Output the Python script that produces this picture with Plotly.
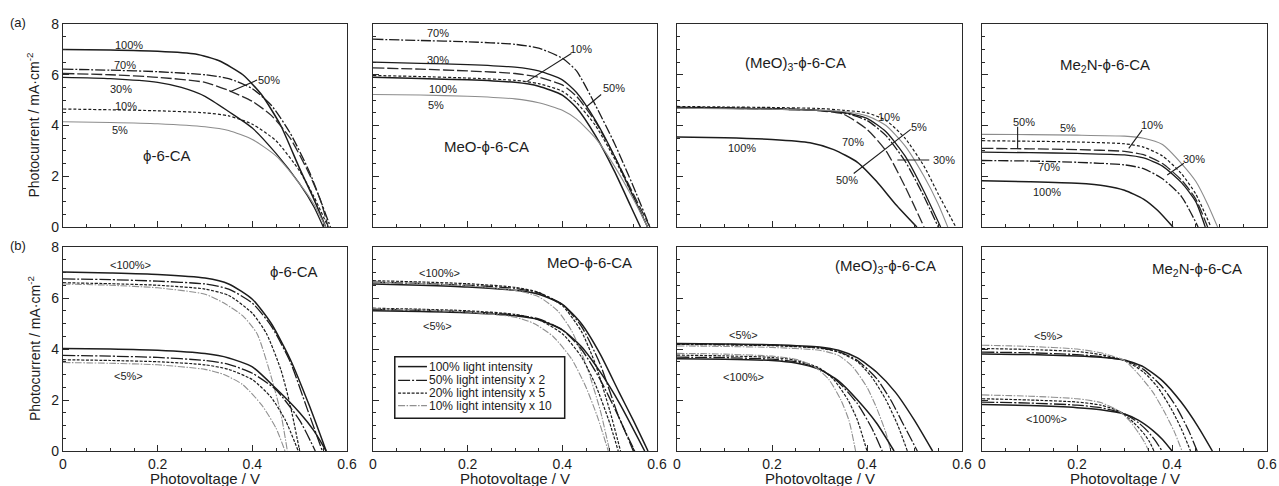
import plotly.graph_objects as go
from plotly.subplots import make_subplots

FONT = "Liberation Sans, Arial, sans-serif"
INK = "#1c1c1c"
PHI = "\u03d5"

# ---------------- (a) J-V curves at several light intensities ----------------
# each curve: (photovoltage / V, photocurrent / mA cm-2)
A_PHI = {
    "100%": ([0, 0.1, 0.2, 0.28, 0.33, 0.38, 0.42, 0.46, 0.5, 0.53, 0.555],
             [7.0, 6.98, 6.93, 6.82, 6.55, 6.0, 5.2, 4.0, 2.3, 1.1, 0]),
    "70%": ([0, 0.1, 0.2, 0.3, 0.35, 0.4, 0.44, 0.48, 0.52, 0.545, 0.565],
            [6.22, 6.18, 6.12, 6.0, 5.85, 5.45, 4.8, 3.7, 2.2, 1.0, 0]),
    "50%": ([0, 0.1, 0.2, 0.3, 0.35, 0.4, 0.44, 0.48, 0.52, 0.545, 0.56],
            [6.05, 6.0, 5.9, 5.7, 5.38, 4.95, 4.4, 3.5, 2.1, 1.0, 0]),
    "30%": ([0, 0.1, 0.2, 0.25, 0.3, 0.35, 0.4, 0.45, 0.5, 0.53, 0.55],
            [5.9, 5.85, 5.7, 5.5, 5.15, 4.55, 3.9, 2.9, 1.7, 0.8, 0]),
    "10%": ([0, 0.1, 0.2, 0.3, 0.35, 0.4, 0.45, 0.5, 0.53, 0.56],
            [4.65, 4.62, 4.58, 4.5, 4.38, 4.05, 3.4, 2.2, 1.2, 0]),
    "5%": ([0, 0.1, 0.2, 0.3, 0.35, 0.4, 0.45, 0.5, 0.53, 0.555],
           [4.15, 4.12, 4.07, 3.95, 3.8, 3.45, 2.8, 1.7, 0.9, 0]),
}
A_MEO = {
    "100%": ([0, 0.1, 0.2, 0.3, 0.35, 0.4, 0.43, 0.47, 0.51, 0.545, 0.565],
             [5.9, 5.85, 5.8, 5.7, 5.55, 5.2, 4.7, 3.6, 2.2, 0.8, 0]),
    "70%": ([0, 0.1, 0.2, 0.3, 0.35, 0.4, 0.43, 0.47, 0.51, 0.55, 0.585],
            [7.4, 7.35, 7.3, 7.2, 7.05, 6.65, 6.15, 4.8, 3.3, 1.6, 0]),
    "50%": ([0, 0.1, 0.2, 0.3, 0.35, 0.4, 0.43, 0.47, 0.51, 0.55, 0.585],
            [6.27, 6.22, 6.15, 6.05, 5.9, 5.6, 5.15, 4.15, 2.8, 1.3, 0]),
    "30%": ([0, 0.1, 0.2, 0.3, 0.35, 0.4, 0.43, 0.47, 0.51, 0.55, 0.58],
            [6.5, 6.45, 6.4, 6.3, 6.15, 5.8, 5.3, 4.2, 2.8, 1.2, 0]),
    "10%": ([0, 0.1, 0.2, 0.3, 0.35, 0.4, 0.43, 0.47, 0.51, 0.55, 0.58],
            [5.97, 5.93, 5.87, 5.78, 5.65, 5.35, 4.9, 4.0, 2.7, 1.2, 0]),
    "5%": ([0, 0.1, 0.2, 0.3, 0.35, 0.4, 0.43, 0.47, 0.51, 0.55, 0.58],
           [5.22, 5.2, 5.15, 5.05, 4.9, 4.6, 4.25, 3.5, 2.4, 1.1, 0]),
}
A_MEO3 = {
    "100%": ([0, 0.1, 0.2, 0.28, 0.33, 0.38, 0.42, 0.46, 0.505],
             [3.55, 3.52, 3.45, 3.32, 3.05, 2.55, 1.8, 0.9, 0]),
    "70%": ([0, 0.1, 0.2, 0.3, 0.35, 0.4, 0.44, 0.48, 0.52, 0.55],
            [4.72, 4.7, 4.67, 4.6, 4.5, 4.2, 3.6, 2.6, 1.2, 0]),
    "50%": ([0, 0.1, 0.2, 0.3, 0.35, 0.4, 0.44, 0.48, 0.52],
            [4.7, 4.68, 4.65, 4.58, 4.45, 3.85, 3.0, 1.6, 0]),
    "30%": ([0, 0.1, 0.2, 0.3, 0.35, 0.4, 0.44, 0.48, 0.52, 0.555],
            [4.7, 4.68, 4.65, 4.6, 4.52, 4.28, 3.75, 2.8, 1.4, 0]),
    "10%": ([0, 0.1, 0.2, 0.3, 0.35, 0.4, 0.44, 0.48, 0.52, 0.55, 0.587],
            [4.75, 4.73, 4.71, 4.67, 4.6, 4.5, 4.2, 3.5, 2.4, 1.3, 0]),
    "5%": ([0, 0.1, 0.2, 0.3, 0.35, 0.4, 0.44, 0.48, 0.52, 0.55, 0.57],
           [4.68, 4.66, 4.64, 4.6, 4.55, 4.38, 4.0, 3.2, 2.0, 0.9, 0]),
}
A_ME2N = {
    "100%": ([0, 0.1, 0.2, 0.26, 0.3, 0.34, 0.37, 0.402],
             [1.82, 1.78, 1.72, 1.62, 1.45, 1.1, 0.65, 0]),
    "70%": ([0, 0.1, 0.2, 0.3, 0.34, 0.38, 0.42, 0.455],
            [2.62, 2.6, 2.55, 2.45, 2.3, 1.9, 1.2, 0]),
    "50%": ([0, 0.1, 0.2, 0.3, 0.34, 0.38, 0.42, 0.45, 0.475],
            [3.1, 3.08, 3.05, 2.98, 2.85, 2.5, 1.85, 1.1, 0]),
    "30%": ([0, 0.1, 0.2, 0.3, 0.34, 0.38, 0.42, 0.45, 0.47],
            [2.95, 2.93, 2.9, 2.84, 2.72, 2.4, 1.75, 1.0, 0]),
    "10%": ([0, 0.1, 0.2, 0.3, 0.34, 0.38, 0.42, 0.45, 0.482],
            [3.4, 3.38, 3.35, 3.28, 3.15, 2.8, 2.1, 1.3, 0]),
    "5%": ([0, 0.1, 0.2, 0.3, 0.34, 0.38, 0.42, 0.45, 0.475, 0.496],
           [3.65, 3.64, 3.62, 3.58, 3.5, 3.25, 2.5, 1.8, 0.9, 0]),
}

# ---------------- (b) curves rescaled to 100% and to 5% ----------------
SCALINGS = ["100% light intensity", "50% light intensity x 2",
            "20% light intensity x 5", "10% light intensity x 10"]

B_PHI = {
    "<100%>": [
        ([0, 0.1, 0.2, 0.3, 0.35, 0.4, 0.44, 0.48, 0.52, 0.556],
         [7.02, 6.98, 6.92, 6.78, 6.55, 5.95, 5.0, 3.6, 1.8, 0]),
        ([0, 0.1, 0.2, 0.3, 0.35, 0.4, 0.44, 0.48, 0.515, 0.548],
         [6.75, 6.72, 6.66, 6.55, 6.35, 5.8, 4.9, 3.5, 1.7, 0]),
        ([0, 0.1, 0.2, 0.3, 0.35, 0.4, 0.43, 0.46, 0.48, 0.5],
         [6.6, 6.56, 6.5, 6.35, 6.1, 5.4, 4.6, 3.2, 1.8, 0]),
        ([0, 0.1, 0.2, 0.3, 0.34, 0.38, 0.41, 0.44, 0.46, 0.474],
         [6.55, 6.5, 6.4, 6.15, 5.8, 5.3, 4.6, 2.9, 1.5, 0]),
    ],
    "<5%>": [
        ([0, 0.1, 0.2, 0.3, 0.35, 0.4, 0.45, 0.5, 0.53, 0.556],
         [4.02, 4.0, 3.95, 3.82, 3.65, 3.3, 2.45, 1.5, 0.8, 0]),
        ([0, 0.1, 0.2, 0.3, 0.35, 0.4, 0.45, 0.5, 0.533],
         [3.75, 3.72, 3.67, 3.55, 3.4, 3.05, 2.4, 1.2, 0]),
        ([0, 0.1, 0.2, 0.3, 0.35, 0.4, 0.44, 0.47, 0.497],
         [3.58, 3.55, 3.5, 3.38, 3.2, 2.8, 2.1, 1.2, 0]),
        ([0, 0.1, 0.2, 0.3, 0.34, 0.38, 0.42, 0.45, 0.469],
         [3.47, 3.44, 3.38, 3.2, 3.0, 2.6, 1.8, 0.9, 0]),
    ],
}
B_MEO = {
    "<100%>": [
        ([0, 0.1, 0.2, 0.3, 0.35, 0.4, 0.44, 0.48, 0.52, 0.55, 0.581],
         [6.55, 6.5, 6.43, 6.3, 6.15, 5.75, 5.0, 3.8, 2.3, 1.2, 0]),
        ([0, 0.1, 0.2, 0.3, 0.35, 0.4, 0.44, 0.48, 0.52, 0.553],
         [6.62, 6.57, 6.5, 6.38, 6.2, 5.75, 4.9, 3.4, 1.3, 0]),
        ([0, 0.1, 0.2, 0.3, 0.35, 0.4, 0.44, 0.47, 0.5, 0.523],
         [6.68, 6.63, 6.56, 6.42, 6.22, 5.7, 4.7, 3.4, 1.6, 0]),
        ([0, 0.1, 0.2, 0.3, 0.35, 0.39, 0.42, 0.45, 0.48, 0.5],
         [6.62, 6.57, 6.48, 6.3, 6.05, 5.5, 4.7, 3.4, 1.6, 0]),
    ],
    "<5%>": [
        ([0, 0.1, 0.2, 0.3, 0.35, 0.4, 0.44, 0.48, 0.52, 0.574],
         [5.5, 5.47, 5.42, 5.3, 5.15, 4.75, 4.1, 3.1, 1.9, 0]),
        ([0, 0.1, 0.2, 0.3, 0.35, 0.4, 0.44, 0.48, 0.52, 0.55],
         [5.55, 5.52, 5.46, 5.34, 5.18, 4.75, 4.0, 2.8, 1.3, 0]),
        ([0, 0.1, 0.2, 0.3, 0.35, 0.4, 0.44, 0.47, 0.5, 0.518],
         [5.6, 5.56, 5.5, 5.36, 5.15, 4.6, 3.7, 2.6, 1.1, 0]),
        ([0, 0.1, 0.2, 0.3, 0.34, 0.38, 0.42, 0.45, 0.475, 0.497],
         [5.58, 5.53, 5.45, 5.25, 5.0, 4.5, 3.6, 2.5, 1.3, 0]),
    ],
}
B_MEO3 = {
    "<5%>": [
        ([0, 0.1, 0.2, 0.3, 0.34, 0.38, 0.42, 0.46, 0.5, 0.538],
         [4.22, 4.2, 4.17, 4.08, 3.95, 3.65, 3.1, 2.3, 1.2, 0]),
        ([0, 0.1, 0.2, 0.3, 0.34, 0.38, 0.42, 0.45, 0.475, 0.506],
         [4.2, 4.18, 4.15, 4.05, 3.9, 3.55, 2.85, 2.0, 1.1, 0]),
        ([0, 0.1, 0.2, 0.3, 0.34, 0.38, 0.41, 0.44, 0.465, 0.485],
         [4.18, 4.16, 4.13, 4.03, 3.88, 3.5, 2.9, 2.0, 1.0, 0]),
        ([0, 0.1, 0.2, 0.3, 0.34, 0.37, 0.4, 0.42, 0.44, 0.45],
         [4.12, 4.1, 4.06, 3.95, 3.75, 3.3, 2.5, 1.7, 0.7, 0]),
    ],
    "<100%>": [
        ([0, 0.1, 0.2, 0.25, 0.3, 0.34, 0.38, 0.42, 0.457],
         [3.62, 3.6, 3.55, 3.45, 3.2, 2.75, 2.0, 1.1, 0]),
        ([0, 0.1, 0.2, 0.25, 0.3, 0.34, 0.38, 0.41, 0.432],
         [3.68, 3.66, 3.6, 3.5, 3.22, 2.7, 1.85, 0.9, 0]),
        ([0, 0.1, 0.2, 0.25, 0.3, 0.33, 0.36, 0.38, 0.4],
         [3.76, 3.73, 3.67, 3.56, 3.25, 2.8, 2.0, 1.2, 0]),
        ([0, 0.1, 0.2, 0.25, 0.29, 0.32, 0.345, 0.362, 0.376],
         [3.83, 3.8, 3.72, 3.6, 3.3, 2.8, 2.0, 1.2, 0]),
    ],
}
B_ME2N = {
    "<5%>": [
        ([0, 0.1, 0.2, 0.25, 0.3, 0.34, 0.38, 0.42, 0.455, 0.485],
         [3.8, 3.78, 3.73, 3.68, 3.57, 3.3, 2.75, 1.9, 0.95, 0]),
        ([0, 0.1, 0.2, 0.25, 0.3, 0.34, 0.38, 0.41, 0.435, 0.453],
         [3.88, 3.85, 3.78, 3.7, 3.56, 3.2, 2.5, 1.7, 0.8, 0]),
        ([0, 0.1, 0.2, 0.25, 0.3, 0.34, 0.37, 0.4, 0.42, 0.439],
         [4.02, 3.98, 3.9, 3.78, 3.55, 3.1, 2.5, 1.6, 0.85, 0]),
        ([0, 0.1, 0.2, 0.25, 0.3, 0.33, 0.36, 0.385, 0.405, 0.421],
         [4.15, 4.1, 4.0, 3.85, 3.55, 3.0, 2.3, 1.5, 0.75, 0]),
    ],
    "<100%>": [
        ([0, 0.1, 0.2, 0.25, 0.3, 0.33, 0.36, 0.38, 0.4],
         [1.82, 1.78, 1.7, 1.62, 1.45, 1.2, 0.8, 0.45, 0]),
        ([0, 0.1, 0.2, 0.25, 0.3, 0.33, 0.35, 0.367, 0.379],
         [1.92, 1.88, 1.8, 1.7, 1.45, 1.1, 0.75, 0.35, 0]),
        ([0, 0.1, 0.2, 0.25, 0.29, 0.32, 0.34, 0.353, 0.362],
         [2.05, 2.0, 1.92, 1.8, 1.55, 1.1, 0.7, 0.35, 0]),
        ([0, 0.1, 0.2, 0.25, 0.29, 0.31, 0.33, 0.342, 0.351],
         [2.2, 2.15, 2.05, 1.9, 1.55, 1.2, 0.7, 0.35, 0]),
    ],
}

COMPOUNDS = [f"{PHI}-6-CA", f"MeO-{PHI}-6-CA",
             f"(MeO)<sub>3</sub>-{PHI}-6-CA", f"Me<sub>2</sub>N-{PHI}-6-CA"]
A_DATA = [A_PHI, A_MEO, A_MEO3, A_ME2N]
B_DATA = [B_PHI, B_MEO, B_MEO3, B_ME2N]

# label text, V, J
A_LABELS = [
    [("100%", 0.140, 7.19), ("70%", 0.131, 6.38), ("30%", 0.123, 5.42),
     ("10%", 0.133, 4.76), ("5%", 0.12, 3.82), ("50%", 0.436, 5.81)],
    [("70%", 0.137, 7.63), ("30%", 0.137, 6.6), ("100%", 0.147, 5.42),
     ("5%", 0.133, 4.8), ("10%", 0.44, 7.0), ("50%", 0.51, 5.46)],
    [("10%", 0.446, 4.34), ("5%", 0.51, 3.95), ("70%", 0.371, 3.36),
     ("30%", 0.562, 2.64), ("50%", 0.358, 1.85), ("100%", 0.136, 3.1)],
    [("50%", 0.088, 4.15), ("5%", 0.182, 3.89), ("10%", 0.357, 4.02),
     ("30%", 0.447, 2.67), ("70%", 0.142, 2.35), ("100%", 0.137, 1.39)],
]
A_POINTERS = [
    [((0.353, 5.33), (0.41, 5.79))],
    [((0.324, 5.72), (0.419, 6.84)), ((0.451, 4.74), (0.482, 5.22))],
    [((0.372, 2.11), (0.492, 3.85)), ((0.464, 2.64), (0.531, 2.64))],
    [((0.075, 3.95), (0.075, 3.1)), ((0.337, 3.82), (0.309, 3.1)),
     ((0.425, 2.51), (0.39, 2.05))],
]
A_NAME_POS = [(0.219, 2.8), (0.24, 3.16), (0.249, 6.44), (0.259, 6.38)]
B_NAME_POS = [(0.487, 7.03), (0.458, 7.38), (0.439, 7.25), (0.453, 7.12)]
B_GROUP_POS = [
    {"<100%>": (0.142, 7.29), "<5%>": (0.138, 2.94)},
    {"<100%>": (0.141, 6.99), "<5%>": (0.137, 4.9)},
    {"<5%>": (0.14, 4.55), "<100%>": (0.141, 2.91)},
    {"<5%>": (0.14, 4.51), "<100%>": (0.136, 1.24)},
]

A_STYLE = {
    "100%": dict(color=INK, width=1.5, dash="solid"),
    "70%": dict(color=INK, width=1.3, dash="10px,2px,2px,2px"),
    "50%": dict(color="#2a2a2a", width=1.3, dash="11px,3px"),
    "30%": dict(color=INK, width=1.3, dash="solid"),
    "10%": dict(color=INK, width=1.2, dash="3px,2px"),
    "5%": dict(color="#8c8c8c", width=1.1, dash="solid"),
}
B_STYLE = [
    dict(color=INK, width=1.5, dash="solid"),
    dict(color=INK, width=1.3, dash="12px,2px,2px,2px"),
    dict(color=INK, width=1.2, dash="3px,1.5px"),
    dict(color="#909090", width=1.1, dash="7px,1.5px,1.5px,1.5px"),
]

W, H = 1279, 486
COL_PX = [(63, 347), (373, 657), (677, 962), (982, 1267)]
ROW_PX = [(24, 227), (247, 451)]

fig = make_subplots(rows=2, cols=4)


def refs(row, col):
    i = (row - 1) * 4 + col
    s = "" if i == 1 else str(i)
    return "x" + s, "y" + s


def label(text, x, y, xref, yref, size, **extra):
    opts = dict(text=text, x=x, y=y, xref=xref, yref=yref, showarrow=False,
                xanchor="center", yanchor="middle",
                font=dict(family=FONT, size=size, color=INK))
    opts.update(extra)
    return opts


annotations = []
shapes = []

for c in range(4):
    # row (a)
    xr, yr = refs(1, c + 1)
    for key in ["100%", "70%", "50%", "30%", "10%", "5%"]:
        v, j = A_DATA[c][key]
        fig.add_trace(go.Scatter(x=v, y=j, mode="lines", line=A_STYLE[key],
                                 line_shape="spline", line_smoothing=0.6,
                                 showlegend=False, hoverinfo="skip"),
                      row=1, col=c + 1)
    for txt, lx, ly in A_LABELS[c]:
        annotations.append(label(txt, lx, ly, xr, yr, 11))
    for (x0, y0), (x1, y1) in A_POINTERS[c]:
        shapes.append(dict(type="line", xref=xr, yref=yr, x0=x0, y0=y0,
                           x1=x1, y1=y1, line=dict(color=INK, width=1.1)))
    nx, ny = A_NAME_POS[c]
    annotations.append(label(COMPOUNDS[c], nx, ny, xr, yr, 15))

    # row (b)
    xr, yr = refs(2, c + 1)
    for group, curves in B_DATA[c].items():
        for k, (v, j) in enumerate(curves):
            fig.add_trace(go.Scatter(x=v, y=j, mode="lines", line=B_STYLE[k],
                                     line_shape="spline", line_smoothing=0.6,
                                     showlegend=False, hoverinfo="skip"),
                          row=2, col=c + 1)
    for group, (gx, gy) in B_GROUP_POS[c].items():
        annotations.append(label(group.replace("<", "&lt;").replace(">", "&gt;"),
                                 gx, gy, xr, yr, 11))
    nx, ny = B_NAME_POS[c]
    annotations.append(label(COMPOUNDS[c], nx, ny, xr, yr, 15))
    annotations.append(label("Photovoltage / V", 0.5, 1 - 478 / H,
                             xr + " domain", "paper", 15))

# key for the rescaled curves, drawn inside the second panel of row (b)
kx, ky = refs(2, 2)
shapes.append(dict(type="rect", xref=kx, yref=ky, x0=0.046, x1=0.405, y0=1.28, y1=3.7,
                   line=dict(color=INK, width=1.5), fillcolor="white", layer="below"))
KEY_ROWS = [3.31, 2.77, 2.27, 1.78]
for k, name in enumerate(SCALINGS):
    shapes.append(dict(type="line", xref=kx, yref=ky, x0=0.053, x1=0.114,
                       y0=KEY_ROWS[k], y1=KEY_ROWS[k], line=B_STYLE[k]))
    annotations.append(label(name, 0.114, KEY_ROWS[k], kx, ky, 12, xanchor="left"))

# row tags and y titles
for tag, ypx in [("(a)", 22), ("(b)", 245)]:
    annotations.append(label(tag, 18 / W, 1 - ypx / H, "paper", "paper", 13))
for (top, bot) in ROW_PX:
    annotations.append(label("Photocurrent / mA\u00b7cm<sup>-2</sup>", 34 / W,
                             1 - (top + bot) / 2 / H, "paper", "paper", 14,
                             textangle=-90))

axis_common = dict(showline=True, mirror=True, linecolor="#2a2a2a", linewidth=1.3,
                   ticks="inside", tickcolor="#2a2a2a", tickwidth=1,
                   showgrid=False, zeroline=False, automargin=False,
                   tickfont=dict(family=FONT, size=14, color=INK))

for r in (1, 2):
    t, b = ROW_PX[r - 1]
    for c in (1, 2, 3, 4):
        l, rr = COL_PX[c - 1]
        fig.update_xaxes(domain=[l / W, rr / W], range=[0, 0.6], dtick=0.2, tick0=0,
                         ticklen=6, minor=dict(ticks="inside", dtick=0.05, ticklen=3,
                                               tickcolor="#2a2a2a"),
                         showticklabels=(r == 2), **axis_common, row=r, col=c)
        fig.update_yaxes(domain=[1 - b / H, 1 - t / H], range=[0, 8], dtick=2, tick0=0,
                         ticklen=6, minor=dict(ticks="inside", dtick=0.5, ticklen=3,
                                               tickcolor="#2a2a2a"),
                         showticklabels=(c == 1), **axis_common, row=r, col=c)

fig.update_layout(width=W, height=H, margin=dict(l=0, r=0, t=0, b=0),
                  paper_bgcolor="white", plot_bgcolor="white",
                  font=dict(family=FONT, color=INK),
                  annotations=annotations, shapes=shapes, showlegend=False)

fig.write_html("out.html")
